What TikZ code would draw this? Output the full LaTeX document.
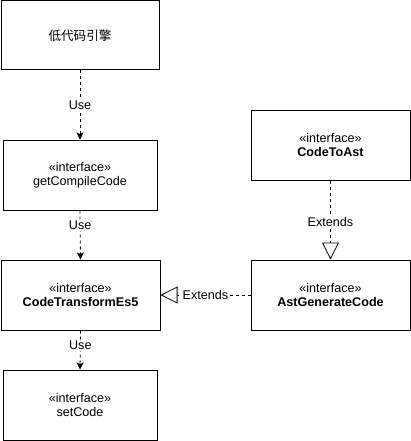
\documentclass[tikz,border=0pt]{standalone}
\usepackage{fontspec}
\setmainfont{Liberation Sans}
\newfontfamily\cjkfont{Noto Sans CJK SC}
\usetikzlibrary{arrows.meta}
\begin{document}
\begin{tikzpicture}[x=1pt,y=1pt,
  box/.style={draw=black, line width=1pt, fill=white, minimum width=159pt, minimum height=70pt, inner sep=0pt, align=center, font=\fontsize{12.6}{14.5}\selectfont},
  lbl/.style={fill=white, inner sep=1pt, font=\fontsize{12.6}{14.5}\selectfont},
  use/.style={draw=black, line width=0.8pt, dash pattern=on 3pt off 3pt, -{Stealth[length=7pt,width=7pt,inset=1.5pt]}},
  ext/.style={draw=black, line width=0.8pt, dash pattern=on 3pt off 3pt, -{Triangle[open,length=17pt,width=17pt,fill=white]}}
]
\useasboundingbox (0,0) rectangle (411,-441);
\node[box, minimum width=158pt, minimum height=69pt] (b1) at (80,-35.5) {\cjkfont 低代码引擎};
\node[box, minimum width=154pt] (b2) at (80,-175) {«interface»\\getCompileCode};
\node[box] (b3) at (80.5,-295) {«interface»\\\textbf{CodeTransformEs5}};
\node[box, minimum width=154pt] (b4) at (80,-405) {«interface»\\setCode};
\node[box] (c1) at (330.5,-145) {«interface»\\\textbf{CodeToAst}};
\node[box] (c2) at (330.5,-295) {«interface»\\\textbf{AstGenerateCode}};

\draw[use] (b1.south) -- node[lbl] {Use} (b2.north);
\draw[use] (b2.south) -- node[lbl, pos=0.3] {Use} (b3.north);
\draw[use] (b3.south) -- node[lbl, pos=0.38] {Use} (b4.north);
\draw[ext] (c1.south) -- node[lbl, pos=0.52] {Extends} (c2.north);
\draw[ext] (c2.west) -- node[lbl, pos=0.5] {Extends} (b3.east);
\end{tikzpicture}
\end{document}
